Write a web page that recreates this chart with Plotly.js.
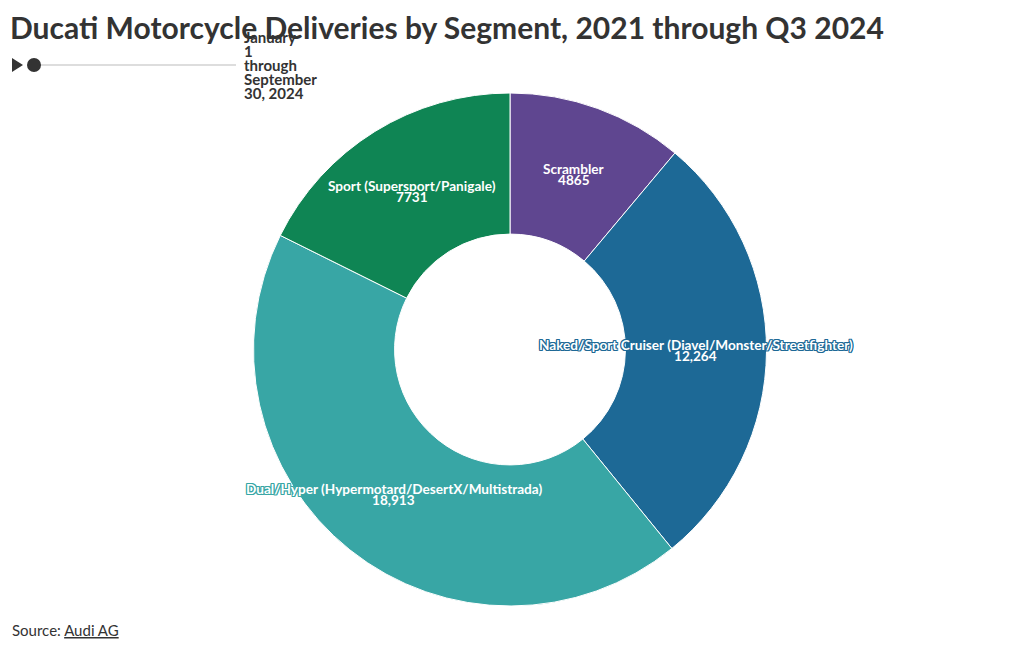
<!DOCTYPE html>
<html><head><meta charset="utf-8">
<script src="https://cdn.plot.ly/plotly-3.0.1.min.js"></script>
<style>html,body{margin:0;padding:0;background:#fff}#chart{width:1020px;height:650px}</style>
</head><body><div id="chart"></div>
<script>
var segments = ["Scrambler", "Naked/Sport Cruiser (Diavel/Monster/Streetfighter)", "Dual/Hyper (Hypermotard/DesertX/Multistrada)", "Sport (Supersport/Panigale)"];
var deliveries = [4865, 12264, 18913, 7731];
var deliveryLabels = ["4865", "12,264", "18,913", "7731"];
var colors = ["#5F4690", "#1D6996", "#38A6A5", "#0F8554"];
var periodLines = ["January", "1", "through", "September", "30, 2024"];

var W = 1020, H = 650;
var FONT = "Lato, 'Open Sans', sans-serif";
var HOLE = 0.45;
var domTop = 93, domBottom = 606;
var cx = W / 2, cy = (domTop + domBottom) / 2, rOut = (domBottom - domTop) / 2;
var rMid = rOut * (1 + HOLE) / 2;

var trace = {
  type: "pie",
  labels: segments,
  values: deliveries,
  hole: HOLE,
  sort: false,
  direction: "clockwise",
  rotation: 0,
  domain: {x: [0, 1], y: [1 - domBottom / H, 1 - domTop / H]},
  marker: {colors: colors, line: {color: "#ffffff", width: 1}},
  textinfo: "none",
  hoverinfo: "label+value",
  showlegend: false
};

function outline(c) {
  return "-1px -1px 0 " + c + ", 1px -1px 0 " + c + ", -1px 1px 0 " + c + ", 1px 1px 0 " + c + ", 0 1px 0 " + c + ", 0 -1px 0 " + c + ", 1px 0 0 " + c + ", -1px 0 0 " + c;
}

var annotations = [];
var total = deliveries.reduce(function(a, b){ return a + b; }, 0);
var cum = 0;
deliveries.forEach(function(v, i) {
  var mid = (cum + v / 2) / total * 2 * Math.PI;
  cum += v;
  var px = cx + rMid * Math.sin(mid);
  var py = cy - rMid * Math.cos(mid);
  var f = {family: FONT, size: 13.6, color: "#ffffff", weight: "bold", shadow: outline(colors[i])};
  annotations.push({text: segments[i], xref: "paper", yref: "paper", x: px / W, y: 1 - (py - 5.5) / H,
    xanchor: "center", yanchor: "middle", showarrow: false, font: f});
  annotations.push({text: deliveryLabels[i], xref: "paper", yref: "paper", x: px / W, y: 1 - (py + 5.5) / H,
    xanchor: "center", yanchor: "middle", showarrow: false, font: f});
});

periodLines.forEach(function(t, i) {
  annotations.push({text: t, xref: "paper", yref: "paper", x: 242 / W, y: 1 - (37 + i * 14.1) / H,
    xanchor: "left", yanchor: "middle", align: "left", showarrow: false,
    font: {family: FONT, size: 15, weight: "bold", color: "#333333"}});
});

annotations.push({text: "Source: <a href='#' style='color:#333333'><u>Audi AG</u></a>", xref: "paper", yref: "paper",
  x: 10 / W, y: 1 - 630 / H, xanchor: "left", yanchor: "middle", showarrow: false,
  font: {family: FONT, size: 15, color: "#333333"}});

var layout = {
  width: W, height: H,
  margin: {l: 0, r: 0, t: 0, b: 0},
  paper_bgcolor: "#ffffff",
  font: {family: FONT, color: "#333333"},
  title: {text: "<b>Ducati Motorcycle Deliveries by Segment, 2021 through Q3 2024</b>",
    x: 10 / W, xanchor: "left", y: 1 - 28 / H, yanchor: "middle", yref: "container",
    font: {family: FONT, size: 30, color: "#333333"}},
  shapes: [
    {type: "line", xref: "paper", yref: "paper", x0: 40 / W, x1: 236 / W, y0: 1 - 65 / H, y1: 1 - 65 / H, line: {color: "#dddddd", width: 2}},
    {type: "path", xref: "paper", yref: "paper",
      path: "M " + (12 / W) + " " + (1 - 58 / H) + " L " + (12 / W) + " " + (1 - 72 / H) + " L " + (23 / W) + " " + (1 - 65 / H) + " Z",
      fillcolor: "#333333", line: {width: 0}},
    {type: "circle", xref: "paper", yref: "paper", x0: 27 / W, x1: 41 / W, y0: 1 - 72 / H, y1: 1 - 58 / H, fillcolor: "#333333", line: {width: 0}}
  ],
  annotations: annotations
};

Plotly.newPlot("chart", [trace], layout, {displayModeBar: false, responsive: false});
</script></body></html>
